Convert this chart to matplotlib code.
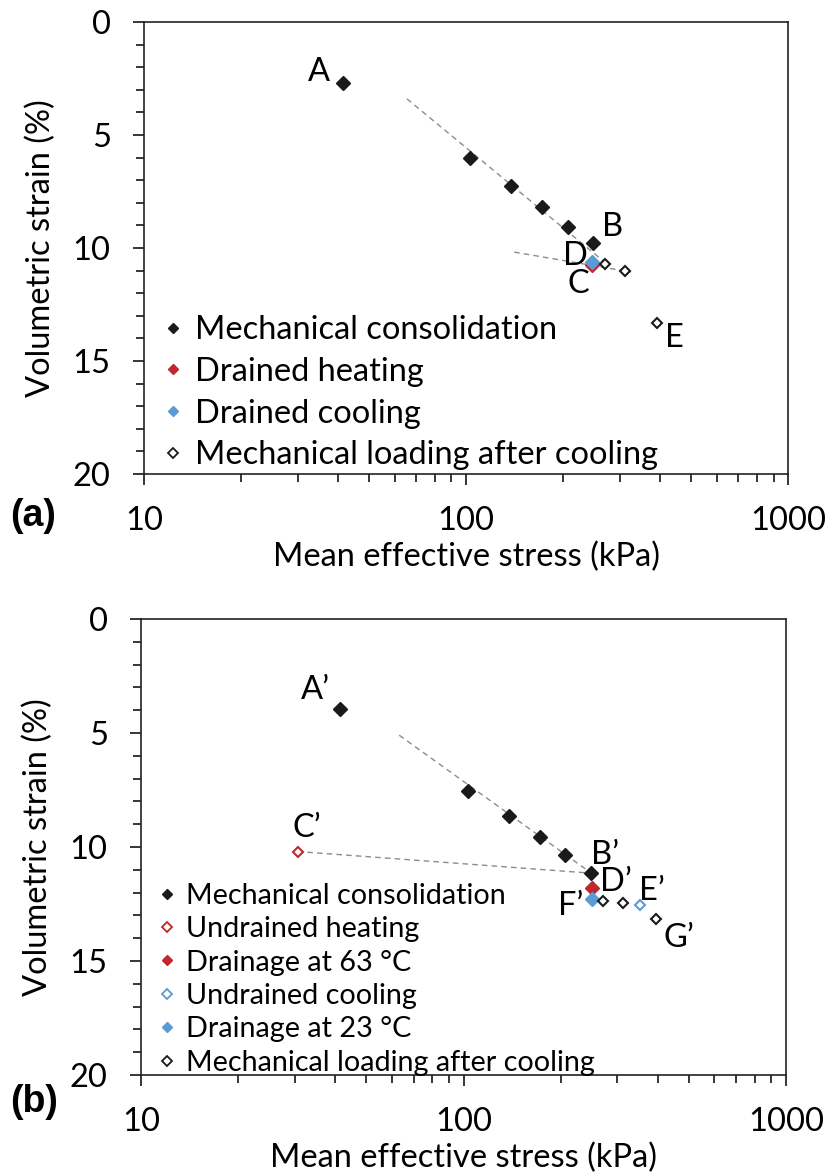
import matplotlib.pyplot as plt
from matplotlib.lines import Line2D
from matplotlib.ticker import FixedLocator, NullFormatter

plt.rcParams['font.family'] = ['Lato', 'DejaVu Sans']

# Données (a)
p_conso_a = [41.5, 103, 138, 172, 207, 248]
ev_conso_a = [2.7, 6.0, 7.25, 8.2, 9.05, 9.8]
p_chauf_a = [246]
ev_chauf_a = [10.75]
p_refr_a = [246]
ev_refr_a = [10.6]
p_charg_a = [270, 312, 391]
ev_charg_a = [10.7, 11.0, 13.3]
# lignes de tendance (pointillés)
p_tend1_a = [65.5, 268]
ev_tend1_a = [3.4, 10.6]
p_tend2_a = [141, 324]
ev_tend2_a = [10.18, 11.06]
lab_a = ['A', 'B', 'D', 'C', 'E']
lab_pos_a = [(41.5, 2.7), (248, 9.8), (246, 10.6), (246, 10.75), (391, 13.3)]
lab_off_a = [(-17, 8), (14, 12), (-12, 4), (-10, -14), (13, -11)]

# Données (b)
p_conso_b = [41.4, 103.5, 138, 173, 207, 249]
ev_conso_b = [3.95, 7.55, 8.65, 9.55, 10.35, 11.15]
p_nd_chauf_b = [30.6]
ev_nd_chauf_b = [10.2]
p_dr63_b = [250]
ev_dr63_b = [11.82]
p_nd_refr_b = [352]
ev_nd_refr_b = [12.55]
p_dr23_b = [250]
ev_dr23_b = [12.3]
p_charg_b = [271, 313, 394]
ev_charg_b = [12.35, 12.45, 13.15]
p_tend1_b = [63.2, 249]
ev_tend1_b = [5.1, 11.15]
p_tend2_b = [30.6, 249]
ev_tend2_b = [10.2, 11.15]
lab_b = ['A\u2019', 'C\u2019', 'B\u2019', 'D\u2019', 'F\u2019', 'E\u2019', 'G\u2019']
lab_pos_b = [(41.4, 3.95), (30.6, 10.2), (249, 11.15), (250, 11.82), (250, 12.3), (352, 12.55), (394, 13.15)]
lab_off_b = [(-18, 14), (7, 17), (10, 13), (17, 5), (-15, -5), (9, 10), (17, -14)]

noir = '#1a1a1a'
rouge = '#c0282d'
bleu = '#5b9bd5'
gris = '#8c8c8c'
taille = 23.5


def axe(ax):
    # axe log en x, axe y inversé, cadre complet
    ax.set_xscale('log')
    ax.set_xlim(10, 1000)
    ax.set_ylim(20, 0)
    ax.xaxis.set_major_locator(FixedLocator([10, 100, 1000]))
    ax.xaxis.set_minor_locator(FixedLocator([k * d for d in (10, 100) for k in range(2, 10)]))
    ax.xaxis.set_minor_formatter(NullFormatter())
    ax.set_xticklabels(['10', '100', '1000'])
    ax.yaxis.set_major_locator(FixedLocator([0, 5, 10, 15, 20]))
    ax.yaxis.set_minor_locator(FixedLocator(range(0, 21)))
    ax.tick_params(which='major', direction='out', length=8, width=1.1, labelsize=taille)
    ax.tick_params(axis='x', which='major', pad=15)
    ax.tick_params(axis='y', which='major', pad=16)
    ax.tick_params(which='minor', direction='out', length=5.5, width=1.1)
    for s in ax.spines.values():
        s.set_linewidth(1.2)
        s.set_color('#222222')
    ax.set_xlabel('Mean effective stress (kPa)', fontsize=taille, labelpad=4)
    ax.set_ylabel('Volumetric strain (%)', fontsize=taille, labelpad=12)


fig = plt.figure(figsize=(8.26, 11.76), dpi=100)
ax1 = fig.add_axes([0.1743, 0.5969, 0.7800, 0.3844])
ax2 = fig.add_axes([0.1707, 0.0859, 0.7809, 0.3878])

# Tracé de la figure (a)
ax1.plot(p_tend1_a, ev_tend1_a, '--', color=gris, lw=1, dashes=(4, 3))
ax1.plot(p_tend2_a, ev_tend2_a, '--', color=gris, lw=1, dashes=(4, 3))
ax1.plot(p_conso_a, ev_conso_a, 'D', color=noir, ms=7, ls='none')
ax1.plot(p_chauf_a, ev_chauf_a, 'D', color=rouge, ms=7, ls='none')
ax1.plot(p_refr_a, ev_refr_a, 'D', color=bleu, ms=7, ls='none')
ax1.plot(p_charg_a, ev_charg_a, 'D', mfc='white', mec=noir, mew=1.5, ms=5.5, ls='none')
for t, pos, off in zip(lab_a, lab_pos_a, lab_off_a):
    ax1.annotate(t, pos, xytext=off, textcoords='offset points', ha='center', va='center', fontsize=taille)
axe(ax1)

h_a = [Line2D([], [], marker='D', color=noir, ls='none', ms=5.2),
       Line2D([], [], marker='D', color=rouge, ls='none', ms=5.2),
       Line2D([], [], marker='D', color=bleu, ls='none', ms=5.2),
       Line2D([], [], marker='D', mfc='white', mec=noir, mew=1.3, ls='none', ms=4.7)]
ax1.legend(h_a, ['Mechanical consolidation', 'Drained heating', 'Drained cooling',
                 'Mechanical loading after cooling'],
           loc='lower left', bbox_to_anchor=(0.0, -0.035), frameon=False, fontsize=taille,
           handlelength=0.6, handletextpad=0.35, labelspacing=0.36, borderaxespad=0.2)
fig.text(0.012, 0.561, '(a)', fontsize=27, fontweight='bold', family='Liberation Sans', va='center')

# Tracé de la figure (b)
ax2.plot(p_tend1_b, ev_tend1_b, '--', color=gris, lw=1, dashes=(4, 3))
ax2.plot(p_tend2_b, ev_tend2_b, '--', color=gris, lw=1, dashes=(4, 3))
ax2.plot(p_conso_b, ev_conso_b, 'D', color=noir, ms=7, ls='none')
ax2.plot(p_nd_chauf_b, ev_nd_chauf_b, 'D', mfc='white', mec=rouge, mew=1.5, ms=5.5, ls='none')
ax2.plot(p_dr63_b, ev_dr63_b, 'D', color=rouge, ms=7, ls='none')
ax2.plot(p_nd_refr_b, ev_nd_refr_b, 'D', mfc='white', mec=bleu, mew=1.5, ms=5.5, ls='none')
ax2.plot(p_dr23_b, ev_dr23_b, 'D', color=bleu, ms=7, ls='none')
ax2.plot(p_charg_b, ev_charg_b, 'D', mfc='white', mec=noir, mew=1.5, ms=5.5, ls='none')
for t, pos, off in zip(lab_b, lab_pos_b, lab_off_b):
    ax2.annotate(t, pos, xytext=off, textcoords='offset points', ha='center', va='center', fontsize=taille)
axe(ax2)

h_b = [Line2D([], [], marker='D', color=noir, ls='none', ms=5.2),
       Line2D([], [], marker='D', mfc='white', mec=rouge, mew=1.3, ls='none', ms=4.7),
       Line2D([], [], marker='D', color=rouge, ls='none', ms=5.2),
       Line2D([], [], marker='D', mfc='white', mec=bleu, mew=1.3, ls='none', ms=4.7),
       Line2D([], [], marker='D', color=bleu, ls='none', ms=5.2),
       Line2D([], [], marker='D', mfc='white', mec=noir, mew=1.3, ls='none', ms=4.7)]
ax2.legend(h_b, ['Mechanical consolidation', 'Undrained heating', 'Drainage at 63 \u00b0C',
                 'Undrained cooling', 'Drainage at 23 \u00b0C', 'Mechanical loading after cooling'],
           loc='lower left', bbox_to_anchor=(0.0, -0.04), frameon=False, fontsize=20.7,
           handlelength=0.6, handletextpad=0.35, labelspacing=0.26, borderaxespad=0.2)
fig.text(0.012, 0.063, '(b)', fontsize=27, fontweight='bold', family='Liberation Sans', va='center')

plt.savefig('out.png', dpi=100)
